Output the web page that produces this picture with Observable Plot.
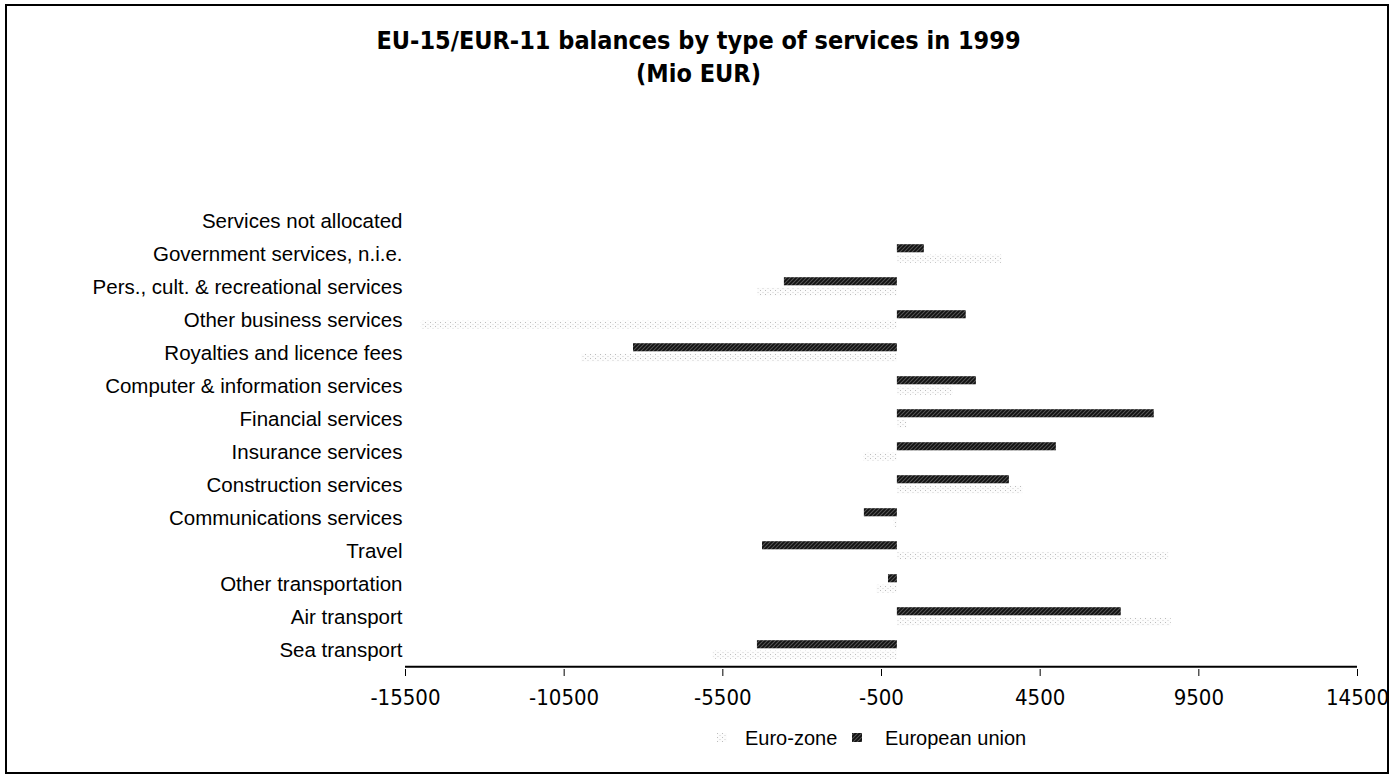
<!DOCTYPE html>
<html><head><meta charset="utf-8">
<script src="https://cdn.jsdelivr.net/npm/d3@7"></script>
<script src="https://cdn.jsdelivr.net/npm/@observablehq/plot@0.6"></script>
<style>
html,body{margin:0;padding:0;background:#fff;}
#wrap{position:relative;width:1397px;height:780px;overflow:hidden;font-family:"Liberation Sans",Arial,sans-serif;color:#000;}
#border{position:absolute;left:5px;top:4px;width:1384px;height:770px;border:2px solid #000;box-sizing:border-box;}
#title{position:absolute;left:0;top:24px;width:1397px;text-align:center;font-family:"Liberation Sans Narrow","Arial Narrow","DejaVu Sans Condensed",sans-serif;font-weight:bold;font-size:25px;line-height:33px;}
#chart{position:absolute;left:0;top:110px;}
#legend{position:absolute;left:0;top:724px;width:1397px;height:28px;font-size:20px;}
#legend .it{position:absolute;top:0;line-height:28px;white-space:nowrap;}
#legend svg{position:absolute;top:9px;}
</style></head>
<body><div id="wrap">
<div id="border"></div>
<div id="title">EU-15/EUR-11 balances by type of services in 1999<br>(Mio EUR)</div>
<div id="chart"></div>
<div id="legend"></div>
</div>
<script>
const categories = [
  "Services not allocated",
  "Government services, n.i.e.",
  "Pers., cult. & recreational services",
  "Other business services",
  "Royalties and licence fees",
  "Computer & information services",
  "Financial services",
  "Insurance services",
  "Construction services",
  "Communications services",
  "Travel",
  "Other transportation",
  "Air transport",
  "Sea transport"
];
const euroZone =       [0, 3300, -4400, -15000, -9950, 1750, 300, -1050, 3950, -100, 8550, -650, 8630, -5800];
const europeanUnion =  [0,  850, -3560,   2170, -8315, 2490, 8095, 5010, 3530, -1040, -4250, -280, 7055, -4410];
const seriesNames = ["Euro-zone", "European union"];
const xTicks = [-15500, -10500, -5500, -500, 4500, 9500, 14500];

const ezData = categories.map((c, i) => ({category: c, value: euroZone[i]}));
const euData = categories.map((c, i) => ({category: c, value: europeanUnion[i]}));

const narrow = '"Liberation Sans Narrow","Arial Narrow","DejaVu Sans Condensed",sans-serif';

const chart = Plot.plot({
  width: 1397,
  height: 610,
  marginTop: 91,
  marginBottom: 51,
  marginLeft: 405,
  marginRight: 40,
  style: {fontFamily: '"Liberation Sans", Arial, sans-serif', background: "transparent", color: "#000"},
  x: {domain: [xTicks[0], xTicks[xTicks.length - 1]], ticks: xTicks},
  y: {domain: categories, padding: 0},
  marks: [
    Plot.barX(ezData, {x: "value", y: "category", fill: "url(#ezPat)", insetTop: 17.7, insetBottom: 7.2}),
    Plot.barX(euData, {x: "value", y: "category", fill: "url(#euPat)", insetTop: 7.2, insetBottom: 17.7}),
    Plot.ruleX([0], {stroke: "#000", strokeWidth: 2, y1: categories[0], y2: categories[categories.length-1], insetTop: -20, insetBottom: -17}),
    Plot.ruleY([categories[categories.length - 1]], {dy: 16.7, stroke: "#000", strokeWidth: 2}),
    Plot.axisX({ticks: xTicks, tickSize: 7, tickPadding: 13, tickFormat: d => String(d), fontSize: 22, fontFamily: narrow, label: null, stroke: "#000"}),
    Plot.axisY({tickSize: 0, tickPadding: 3, fontSize: 20.5, label: null})
  ]
});

// patterns for the bar fills
const ns = "http://www.w3.org/2000/svg";
const defs = document.createElementNS(ns, "defs");
defs.innerHTML = `
<pattern id="euPat" patternUnits="userSpaceOnUse" width="4" height="4">
  <rect width="4" height="4" fill="#555"/>
  <path d="M-1,1 l2,-2 M0,4 l4,-4 M3,5 l2,-2" stroke="#111" stroke-width="1.8"/>
</pattern>
<pattern id="ezPat" patternUnits="userSpaceOnUse" width="5" height="4">
  <rect width="5" height="4" fill="#fcfcfc"/>
  <rect x="0" y="0" width="1" height="1" fill="#bdbdbd"/>
  <rect x="2.5" y="2" width="1" height="1" fill="#d0d0d0"/>
</pattern>`;
chart.insertBefore(defs, chart.firstChild);
document.getElementById("chart").appendChild(chart);

// legend
const legend = document.getElementById("legend");
const items = [
  {name: seriesNames[0], fill: "url(#ezPat)", sw: 717, tx: 745},
  {name: seriesNames[1], fill: "url(#euPat)", sw: 852, tx: 885}
];
for (const it of items) {
  const s = document.createElementNS(ns, "svg");
  s.setAttribute("width", 10); s.setAttribute("height", 9);
  s.style.left = it.sw + "px";
  const r = document.createElementNS(ns, "rect");
  r.setAttribute("width", 10); r.setAttribute("height", 9); r.setAttribute("fill", it.fill);
  s.appendChild(r);
  legend.appendChild(s);
  const t = document.createElement("span");
  t.className = "it"; t.style.left = it.tx + "px"; t.textContent = it.name;
  legend.appendChild(t);
}
</script>
</body></html>
